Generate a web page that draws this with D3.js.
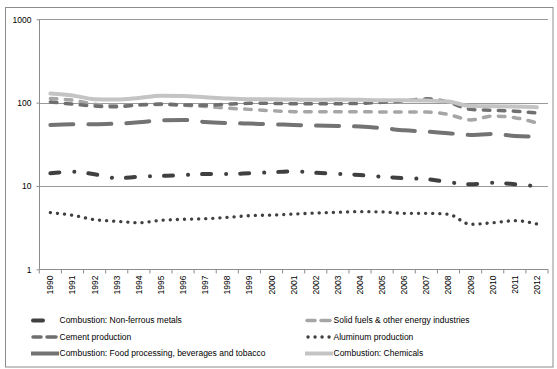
<!DOCTYPE html>
<html><head><meta charset="utf-8">
<script src="https://cdn.jsdelivr.net/npm/d3@7"></script>
<style>
body{margin:0;background:#fff;}
text{font-family:"Liberation Sans",Arial,sans-serif;fill:#000;}
</style></head>
<body><svg id="c" width="557" height="369"></svg>
<script>
const years = [1990,1991,1992,1993,1994,1995,1996,1997,1998,1999,2000,2001,2002,2003,2004,2005,2006,2007,2008,2009,2010,2011,2012];
const yTicks = [1,10,100,1000];
const nonFerrous = [14.2,14.8,13.8,12.4,12.9,13.2,13.5,13.9,13.9,14.2,14.6,15.0,14.4,14.0,13.5,12.9,12.4,12.1,11.1,10.5,10.9,10.5,9.9];
const solidFuels = [112,107,96,92,94,95,93,90,86,83,80,78,78,78,78,77,77,77,72,62,69,66,57];
const cement = [102,96,91,89,94,96,94,93,96,98,98,97,97,97,98,101,105,111,101,83,81,79,75];
const aluminum = [4.78,4.45,3.94,3.77,3.62,3.87,3.98,4.05,4.2,4.4,4.48,4.6,4.74,4.83,4.92,4.88,4.7,4.7,4.57,3.47,3.62,3.83,3.5];
const foodProc = [54,55,55,56,58,61.5,62,58.7,57,56,55,54,53,52.6,51.6,49.5,46.6,44.9,42.9,41,42,39.8,39];
const chemicals = [129,122,110,109,114,121,120,116,112,110,110,109,108,109,108,107,107,106,103,91,90.5,89.6,88];

const seriesNames = ["Combustion: Non-ferrous metals","Solid fuels & other energy industries","Cement production","Aluminum production","Combustion: Food processing, beverages and tobacco","Combustion: Chemicals"];
const seriesData = [nonFerrous, solidFuels, cement, aluminum, foodProc, chemicals];
const styles = [
  {color:"#404040", w:4, dash:"9,15,0.1,14"},
  {color:"#a6a6a6", w:3.5, dash:"6.5,8.5"},
  {color:"#6f6f6f", w:3.5, dash:"6.5,8.5"},
  {color:"#404040", w:3.3, dash:"0.1,7"},
  {color:"#737373", w:4, dash:"23,15"},
  {color:"#c4c4c4", w:4, dash:null}
];

const svg = d3.select("#c");
svg.append("rect").attr("x",5.5).attr("y",7.5).attr("width",547.5).attr("height",359.5)
  .attr("fill","none").attr("stroke","#8c8c8c").attr("stroke-width",1);

const x = d3.scaleBand().domain(years).range([39.3,548]);
const y = d3.scaleLog().domain([1,1000]).range([269.3,19.3]);

// gridlines
svg.append("g").selectAll("line").data(yTicks.filter(d=>d>1)).join("line")
  .attr("x1",39.3).attr("x2",548).attr("y1",d=>Math.round(y(d))+0.5).attr("y2",d=>Math.round(y(d))+0.5)
  .attr("stroke","#9a9a9a").attr("stroke-width",1);

// y axis
const ya = svg.append("g").attr("transform","translate(39.5,0)")
  .call(d3.axisLeft(y).tickValues(yTicks).tickFormat(d3.format("d")).tickSize(3).tickPadding(5));
ya.select(".domain").attr("stroke","#8c8c8c").attr("d","M0,"+y(1000)+"V"+y(1));
ya.selectAll(".tick line").attr("stroke","#8c8c8c");
ya.selectAll(".tick text").style("font-size","8.5px").attr("fill","#000");

// x axis
const xa = svg.append("g").attr("transform","translate(0,"+(Math.round(y(1))+0.5)+")");
xa.append("line").attr("x1",39.3).attr("x2",548).attr("stroke","#8c8c8c");
xa.selectAll("line.t").data(d3.range(years.length+1)).join("line").attr("class","t")
  .attr("x1",i=>39.3+i*x.step()).attr("x2",i=>39.3+i*x.step()).attr("y1",0).attr("y2",4)
  .attr("stroke","#8c8c8c");
xa.selectAll("text").data(years).join("text")
  .attr("transform",d=>"translate("+(x(d)+x.bandwidth()/2)+",6) rotate(-90)")
  .attr("text-anchor","end").attr("dy","0.35em").style("font-size","8.5px").text(d=>d);

// lines
const line = d3.line().x((d,i)=>x(years[i])+x.bandwidth()/2).y(d=>y(d)).curve(d3.curveMonotoneX);
seriesData.forEach((s,k)=>{
  const st = styles[k];
  svg.append("path").datum(s).attr("d",line).attr("fill","none")
    .attr("stroke",st.color).attr("stroke-width",st.w).attr("stroke-linecap","round")
    .attr("stroke-dasharray",st.dash);
});

// legend
const legPos = [[31,320.5],[305,320.5],[31,337],[305,337],[31,353.5],[305,353.5]];
seriesNames.forEach((n,k)=>{
  const [lx,ly] = legPos[k]; const st = styles[k];
  const g = svg.append("g");
  let swatch;
  if(k===0) swatch = [[lx+2,lx+12]];
  else if(k===1||k===2) swatch = [[lx+2,lx+10],[lx+16,lx+25]];
  else if(k===3) swatch = [[lx+3,lx+3.1],[lx+10,lx+10.1],[lx+17,lx+17.1],[lx+24,lx+24.1]];
  else swatch = [[lx,lx+28]];
  swatch.forEach(([a,b])=>{
    g.append("line").attr("x1",a).attr("x2",b).attr("y1",ly).attr("y2",ly)
      .attr("stroke",st.color).attr("stroke-width",st.w)
      .attr("stroke-linecap",(k>=4)?"butt":"round");
  });
  g.append("text").attr("x",lx+28.5).attr("y",ly).attr("dy","0.35em").style("font-size","8.5px").text(n);
});
</script></body></html>
